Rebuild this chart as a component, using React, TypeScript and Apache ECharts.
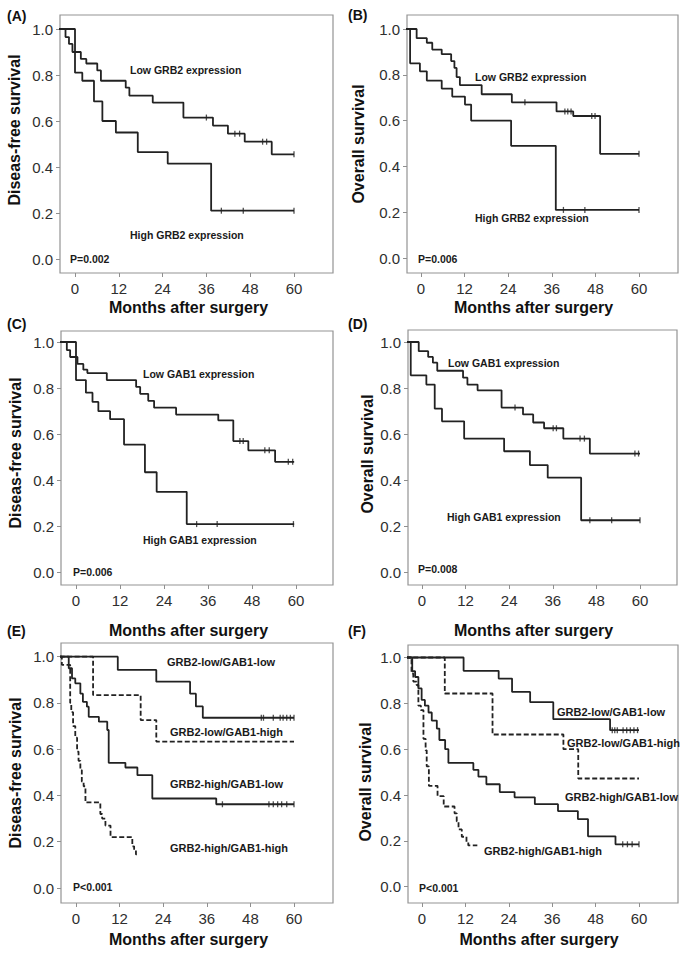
import React, { useEffect, useRef } from "react";
import * as echarts from "echarts";

// ---------- tick labels ----------
const monthTicks = [0, 12, 24, 36, 48, 60];
const survivalTicks = [0, 0.2, 0.4, 0.6, 0.8, 1.0];

// ---------- (A) Disease-free survival, GRB2 ----------
const aLowT = [-4.5, -2.6, -1.65, -0.7, 1.6, 3.1, 6.1, 7.1, 13.9, 14.9, 21.3, 29.7, 37.8, 41.9, 46.5, 53.9, 60];
const aLowS = [1.0, 0.965, 0.935, 0.9, 0.87, 0.85, 0.82, 0.775, 0.745, 0.71, 0.68, 0.615, 0.58, 0.545, 0.51, 0.455, 0.455];
const aLowCensor = [36.0, 43.8, 45.1, 51.4, 52.5, 60];
const aHighT = [-4.5, 0, 2.0, 5.2, 7.5, 11.2, 17.2, 25.4, 37.3, 60];
const aHighS = [1.0, 0.81, 0.775, 0.685, 0.6, 0.55, 0.465, 0.415, 0.21, 0.21];
const aHighCensor = [40.1, 46.1, 60];

// ---------- (B) Overall survival, GRB2 ----------
const bLowT = [-4.5, -1.2, 1.6, 3.1, 5.7, 8.3, 9.2, 9.8, 10.7, 16.7, 25.0, 37.3, 41.9, 49.3, 60];
const bLowS = [1.0, 0.96, 0.94, 0.91, 0.89, 0.86, 0.83, 0.79, 0.755, 0.715, 0.68, 0.64, 0.62, 0.455, 0.455];
const bLowCensor = [28.6, 39.6, 40.4, 41.3, 47.0, 47.9, 60];
const bHighT = [-4.5, -3.0, -0.3, 1.6, 5.7, 8.6, 12.1, 13.8, 24.8, 37.1, 60];
const bHighS = [1.0, 0.85, 0.815, 0.775, 0.74, 0.705, 0.67, 0.6, 0.49, 0.21, 0.21];
const bHighCensor = [39.2, 45.1, 60];

// ---------- (C) Disease-free survival, GAB1 ----------
const cLowT = [-4.5, -2.5, -1.6, 0.4, 2.0, 3.1, 8.4, 16.4, 17.5, 19.7, 21.3, 27.3, 38.8, 42.9, 47.0, 54.3, 59.5];
const cLowS = [1.0, 0.965, 0.935, 0.905, 0.88, 0.865, 0.835, 0.805, 0.775, 0.745, 0.715, 0.685, 0.66, 0.57, 0.53, 0.48, 0.48];
const cLowCensor = [44.7, 45.6, 51.5, 52.7, 57.9, 59.1];
const cHighT = [-4.5, 0, 2.7, 4.5, 6.1, 9.3, 13.1, 18.8, 22.0, 30.2, 59.5];
const cHighS = [1.0, 0.835, 0.78, 0.74, 0.7, 0.665, 0.555, 0.435, 0.35, 0.21, 0.21];
const cHighCensor = [32.9, 38.5, 59.3];

// ---------- (D) Overall survival, GAB1 ----------
const dLowT = [-4.5, -0.9, 1.7, 3.0, 4.2, 11.3, 12.5, 15.3, 21.9, 27.8, 30.6, 33.6, 38.9, 46.2, 60];
const dLowS = [1.0, 0.96, 0.935, 0.91, 0.875, 0.845, 0.815, 0.79, 0.715, 0.685, 0.65, 0.625, 0.58, 0.515, 0.515];
const dLowCensor = [25.6, 36.1, 37.0, 43.5, 44.7, 58.6, 59.6];
const dHighT = [-4.5, -3.1, 1.2, 3.5, 5.5, 11.6, 22.6, 29.7, 34.6, 43.8, 60];
const dHighS = [1.0, 0.855, 0.815, 0.71, 0.655, 0.58, 0.525, 0.465, 0.41, 0.225, 0.225];
const dHighCensor = [46.2, 52.2, 60];

// ---------- (E) Disease-free survival, combined ----------
const eLowLowT = [-4.5, 11.5, 22.1, 31.4, 33.0, 34.9, 60];
const eLowLowS = [1.0, 0.943, 0.892, 0.84, 0.785, 0.736, 0.736];
const eLowLowCensor = [51.0, 51.6, 54.3, 56.2, 57.0, 58.0, 59.0, 60.0];
const eLowHighT = [-4.5, 4.7, 17.8, 22.1, 60];
const eLowHighS = [1.0, 0.834, 0.726, 0.633, 0.633];
const eHighLowT = [-4.5, -2.0, -1.1, -0.2, 1.2, 1.9, 3.0, 3.5, 6.3, 8.6, 9.0, 13.6, 16.9, 21.0, 38.6, 60];
const eHighLowS = [1.0, 0.95, 0.906, 0.885, 0.84, 0.805, 0.784, 0.74, 0.719, 0.683, 0.541, 0.521, 0.488, 0.387, 0.362, 0.362];
const eHighLowCensor = [40.3, 53.1, 54.3, 55.5, 56.6, 58.0, 60];
const eHighHighT = [-4.5, -3.9, -1.6, -1.3, -0.8, -0.2, 0.3, 0.7, 1.2, 1.6, 2.1, 2.6, 6.7, 7.2, 8.1, 9.5, 15.5, 16.0, 16.5, 17.0];
const eHighHighS = [1.0, 0.965, 0.8, 0.76, 0.7, 0.65, 0.59, 0.55, 0.51, 0.46, 0.44, 0.37, 0.32, 0.3, 0.27, 0.22, 0.18, 0.163, 0.145, 0.145];

// ---------- (F) Overall survival, combined ----------
const fLowLowT = [-4.5, 11.5, 21.2, 24.9, 29.9, 36.3, 52.0, 60];
const fLowLowS = [1.0, 0.942, 0.908, 0.85, 0.805, 0.731, 0.683, 0.683];
const fLowLowCensor = [52.6, 53.3, 54.0, 55.6, 56.6, 57.6, 58.6, 59.6];
const fLowHighT = [-4.5, 6.3, 19.5, 39.1, 43.2, 60];
const fLowHighS = [1.0, 0.843, 0.664, 0.6, 0.472, 0.472];
const fHighLowT = [-4.5, -2.7, -1.9, -1.0, -0.1, 0.8, 1.8, 2.7, 4.1, 4.8, 6.4, 7.3, 14.2, 15.6, 17.8, 21.5, 25.6, 31.2, 37.6, 43.1, 45.9, 53.5, 60];
const fHighLowS = [1.0, 0.94, 0.915, 0.865, 0.815, 0.79, 0.76, 0.725, 0.69, 0.64, 0.6, 0.54, 0.51, 0.48, 0.447, 0.413, 0.39, 0.36, 0.33, 0.295, 0.22, 0.185, 0.185];
const fHighLowCensor = [55.5, 56.8, 58.1, 60];
const fHighHighT = [-4.5, -2.9, -2.4, -1.5, -1.0, -0.3, 0.4, 1.0, 1.3, 1.9, 4.3, 6.0, 9.0, 9.6, 10.1, 11.0, 12.3, 12.8, 15.3];
const fHighHighS = [1.0, 0.93, 0.895, 0.88, 0.79, 0.77, 0.645, 0.595, 0.525, 0.44, 0.395, 0.35, 0.32, 0.285, 0.25, 0.218, 0.195, 0.18, 0.18];

// ---------- texts ----------
const panelLetters = ["(A)", "(B)", "(C)", "(D)", "(E)", "(F)"];
const yTitles = ["Diseas-free survival", "Overall survival", "Diseas-free survival", "Overall survival", "Diseas-free survival", "Overall survival"];
const xTitle = "Months after surgery";
const pValues = ["P=0.002", "P=0.006", "P=0.006", "P=0.008", "P<0.001", "P<0.001"];

const FONT = '"Liberation Sans", Arial, Helvetica, sans-serif';
const LINE = "#222222";

type Curve = { t: number[]; s: number[]; censor?: number[]; dashed?: boolean };

// layout (pixels): frame [l, t, r, b], x position of month 0 and 60, y position of 1.0 and 0.0
const panels = [
  { frame: [60, 15, 333, 273], x0: 75, x60: 294, y1: 29, y0: 259,
    curves: [{ t: aLowT, s: aLowS, censor: aLowCensor }, { t: aHighT, s: aHighS, censor: aHighCensor }] as Curve[],
    labels: [{ text: "Low GRB2 expression", x: 130, y: 70 }, { text: "High GRB2 expression", x: 130, y: 235 }],
    p: { x: 70, y: 259 }, letter: { x: 7, y: 16 }, yt: { x: 14.5, y: 130 }, xt: { x: 188.5, y: 307 }, lf: 10.5 },
  { frame: [407, 15, 678, 273], x0: 421, x60: 639, y1: 29, y0: 258,
    curves: [{ t: bLowT, s: bLowS, censor: bLowCensor }, { t: bHighT, s: bHighS, censor: bHighCensor }] as Curve[],
    labels: [{ text: "Low GRB2 expression", x: 475, y: 77 }, { text: "High GRB2 expression", x: 475, y: 218 }],
    p: { x: 418, y: 259 }, letter: { x: 348, y: 15 }, yt: { x: 358, y: 144 }, xt: { x: 533.5, y: 307 }, lf: 10.5 },
  { frame: [61, 331, 333, 585], x0: 76, x60: 296, y1: 342, y0: 572.5,
    curves: [{ t: cLowT, s: cLowS, censor: cLowCensor }, { t: cHighT, s: cHighS, censor: cHighCensor }] as Curve[],
    labels: [{ text: "Low GAB1 expression", x: 143, y: 374 }, { text: "High GAB1 expression", x: 143, y: 540 }],
    p: { x: 73, y: 572 }, letter: { x: 7, y: 324 }, yt: { x: 15.5, y: 453 }, xt: { x: 188.5, y: 630 }, lf: 10.5 },
  { frame: [408, 330, 677, 585], x0: 422, x60: 640, y1: 342, y0: 572,
    curves: [{ t: dLowT, s: dLowS, censor: dLowCensor }, { t: dHighT, s: dHighS, censor: dHighCensor }] as Curve[],
    labels: [{ text: "Low GAB1 expression", x: 448, y: 363 }, { text: "High GAB1 expression", x: 447, y: 517 }],
    p: { x: 418, y: 569 }, letter: { x: 348, y: 324 }, yt: { x: 367, y: 454 }, xt: { x: 533.5, y: 630 }, lf: 10.5 },
  { frame: [61, 643, 333, 903], x0: 76, x60: 294, y1: 656.7, y0: 888,
    curves: [
      { t: eLowLowT, s: eLowLowS, censor: eLowLowCensor },
      { t: eLowHighT, s: eLowHighS, dashed: true },
      { t: eHighLowT, s: eHighLowS, censor: eHighLowCensor },
      { t: eHighHighT, s: eHighHighS, dashed: true },
    ] as Curve[],
    labels: [
      { text: "GRB2-low/GAB1-low", x: 167, y: 662 },
      { text: "GRB2-low/GAB1-high", x: 170, y: 732 },
      { text: "GRB2-high/GAB1-low", x: 170, y: 784 },
      { text: "GRB2-high/GAB1-high", x: 170, y: 848 },
    ],
    p: { x: 73, y: 887 }, letter: { x: 7, y: 631 }, yt: { x: 15, y: 773 }, xt: { x: 188.5, y: 939 }, lf: 11 },
  { frame: [408, 645, 678, 903], x0: 422, x60: 639, y1: 657.5, y0: 886.7,
    curves: [
      { t: fLowLowT, s: fLowLowS, censor: fLowLowCensor },
      { t: fLowHighT, s: fLowHighS, dashed: true },
      { t: fHighLowT, s: fHighLowS, censor: fHighLowCensor },
      { t: fHighHighT, s: fHighHighS, dashed: true },
    ] as Curve[],
    labels: [
      { text: "GRB2-low/GAB1-low", x: 557, y: 712 },
      { text: "GRB2-low/GAB1-high", x: 567, y: 743 },
      { text: "GRB2-high/GAB1-low", x: 565, y: 797 },
      { text: "GRB2-high/GAB1-high", x: 484, y: 851 },
    ],
    p: { x: 419, y: 888 }, letter: { x: 348, y: 631 }, yt: { x: 365, y: 782 }, xt: { x: 539, y: 939 }, lf: 11 },
];

function survAt(t: number[], s: number[], x: number) {
  let v = s[0];
  for (let i = 0; i < t.length; i++) if (t[i] <= x) v = s[i];
  return v;
}

function txt(text: string, x: number, y: number, font: string, align = "left", rotation = 0, fill = "#1a1a1a") {
  return {
    type: "text",
    x,
    y,
    rotation,
    silent: true,
    style: {
      text,
      font,
      fill,
      align,
      verticalAlign: "middle",
      textAlign: align,
      textVerticalAlign: "middle",
    },
  };
}

function buildOption() {
  const grid: any[] = [];
  const xAxis: any[] = [];
  const yAxis: any[] = [];
  const series: any[] = [];
  const graphic: any[] = [];

  panels.forEach((p, i) => {
    const [l, t, r, b] = p.frame;
    const kx = (p.x60 - p.x0) / 60;
    const ky = p.y0 - p.y1;
    grid.push({
      left: l, top: t, width: r - l, height: b - t,
      show: true, borderColor: "#939393", borderWidth: 1.2, backgroundColor: "transparent",
      containLabel: false,
    });
    xAxis.push({
      gridIndex: i, type: "value",
      min: -(p.x0 - l) / kx, max: 60 + (r - p.x60) / kx,
      axisLine: { show: false, onZero: false },
      splitLine: { show: false },
      axisTick: { show: true, length: 4, customValues: monthTicks, lineStyle: { color: "#8f8f8f", width: 1 } },
      axisLabel: { customValues: monthTicks, margin: 8, fontSize: 15, color: "#2e2e2e", fontFamily: FONT },
    });
    yAxis.push({
      gridIndex: i, type: "value",
      min: -(b - p.y0) / ky, max: 1 + (p.y1 - t) / ky,
      axisLine: { show: false, onZero: false },
      splitLine: { show: false },
      axisTick: { show: true, length: 4, customValues: survivalTicks, lineStyle: { color: "#8f8f8f", width: 1 } },
      axisLabel: {
        customValues: survivalTicks, margin: 7, fontSize: 15, color: "#2e2e2e", fontFamily: FONT,
        formatter: (v: number) => v.toFixed(1),
      },
    });
    p.curves.forEach((c) => {
      series.push({
        type: "line", xAxisIndex: i, yAxisIndex: i, step: "end", symbol: "none", silent: true,
        clip: true,
        data: c.t.map((x, k) => [x, c.s[k]]),
        lineStyle: { color: LINE, width: 1.8, type: c.dashed ? [5, 2.5] : "solid" },
        z: 3,
      });
      if (c.censor && c.censor.length) {
        series.push({
          type: "scatter", xAxisIndex: i, yAxisIndex: i, silent: true,
          symbol: "rect", symbolSize: [1.3, 6],
          itemStyle: { color: LINE },
          data: c.censor.map((x) => [x, survAt(c.t, c.s, x)]),
          z: 4,
        });
      }
    });
    p.labels.forEach((lb) => graphic.push(txt(lb.text, lb.x, lb.y, `bold ${p.lf}px ${FONT}`)));
    graphic.push(txt(pValues[i], p.p.x, p.p.y, `bold 10.5px ${FONT}`));
    graphic.push(txt(panelLetters[i], p.letter.x, p.letter.y, `bold 14px ${FONT}`, "left", 0, "#111"));
    graphic.push(txt(yTitles[i], p.yt.x, p.yt.y, `bold 16px ${FONT}`, "center", Math.PI / 2, "#111"));
    graphic.push(txt(xTitle, p.xt.x, p.xt.y, `bold 16px ${FONT}`, "center", 0, "#111"));
  });

  return {
    animation: false,
    backgroundColor: "#ffffff",
    grid, xAxis, yAxis, series, graphic,
  };
}

export default function App() {
  const ref = useRef<HTMLDivElement>(null);
  useEffect(() => {
    if (!ref.current) return;
    const chart = echarts.init(ref.current, undefined, { renderer: "svg" });
    chart.setOption(buildOption() as any);
    return () => chart.dispose();
  }, []);
  return (
    <div
      ref={ref}
      style={{ position: "absolute", left: 0, top: 0, width: 689, height: 959, background: "#fff" }}
    />
  );
}
